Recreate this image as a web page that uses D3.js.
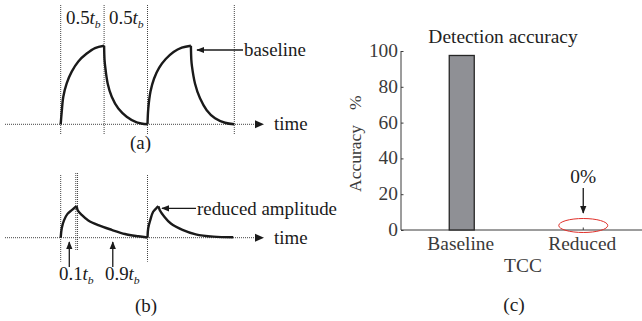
<!DOCTYPE html>
<html lang="en">
<head>
<meta charset="UTF-8">
<title>TCC detection accuracy</title>
<script src="https://cdn.jsdelivr.net/npm/d3@7/dist/d3.min.js"></script>
<style>
  body { margin: 0; background: #fff; }
  svg { display: block; font-family: "Liberation Serif", "Times New Roman", serif; }
</style>
</head>
<body>
<svg width="642" height="321"></svg>
<script>
// waveform samples: [time in tb, amplitude]
var aRise1 = [[0,0],[0.012,0.16],[0.03,0.35],[0.069,0.52],[0.127,0.67],[0.203,0.80],[0.30,0.90],[0.395,0.97],[0.5,1.0]];
var aFall1 = [[0.5,1.0],[0.505,0.82],[0.512,0.74],[0.541,0.52],[0.588,0.35],[0.664,0.20],[0.76,0.097],[0.876,0.025],[1.0,0]];
var aRise2 = [[1.0,0],[1.009,0.20],[1.035,0.42],[1.075,0.58],[1.135,0.72],[1.21,0.83],[1.30,0.92],[1.395,0.975],[1.5,1.0]];
var aFall2 = [[1.5,1.0],[1.505,0.82],[1.512,0.74],[1.547,0.52],[1.605,0.33],[1.682,0.18],[1.778,0.076],[1.893,0.02],[2.0,0]];
var bRise1 = [[0,0],[0.012,0.12],[0.038,0.22],[0.076,0.30],[0.127,0.35],[0.17,0.39],[0.184,0.40]];
var bFall1 = [[0.184,0.40],[0.196,0.35],[0.242,0.29],[0.318,0.22],[0.433,0.16],[0.587,0.10],[0.74,0.047],[0.894,0.018],[1.0,0.003]];
var bRise2 = [[1.0,0],[1.008,0.12],[1.031,0.22],[1.065,0.33],[1.11,0.385],[1.126,0.40]];
var bFall2 = [[1.126,0.40],[1.142,0.35],[1.192,0.27],[1.269,0.18],[1.403,0.10],[1.556,0.043],[1.758,0.013],[1.988,0.005]];
var aGuides = [0, 0.5, 1.0, 2.0];
var bGuides = [0, 0.174, 0.194, 1.0];
var bPointers = [0.099, 0.6];

// bar chart
var categories = ['Baseline', 'Reduced'];
var accuracy = [97.5, 0];
var yTicks = [0, 20, 40, 60, 80, 100];

var svg = d3.select('svg');
var ink = '#1a1a1a';
var sx = 1.05; // glyphs in the picture are a little wider than tall
var fsL = 18, fsR = 18.5;

svg.append('defs').append('marker')
    .attr('id', 'head')
    .attr('viewBox', '0 0 10 10')
    .attr('refX', 9).attr('refY', 5)
    .attr('markerWidth', 8).attr('markerHeight', 8)
    .attr('markerUnits', 'userSpaceOnUse')
    .attr('orient', 'auto')
    .append('path').attr('d', 'M0,1L10,5L0,9Z').attr('fill', ink);

function label(x, y, anchor, size, color) {
    return svg.append('text')
        .attr('transform', 'translate(' + x + ',' + y + ') scale(' + sx + ',1)')
        .attr('text-anchor', anchor)
        .attr('font-size', size)
        .attr('fill', color || ink);
}
function tb(x, y, num, size) {
    var t = label(x, y, 'start', size);
    t.append('tspan').text(num);
    t.append('tspan').attr('font-style', 'italic').text('t');
    t.append('tspan').attr('font-style', 'italic').attr('font-size', size * 0.62).attr('dy', 4).text('b');
}
function arrow(x1, y1, x2, y2) {
    svg.append('line')
        .attr('x1', x1).attr('y1', y1).attr('x2', x2).attr('y2', y2)
        .attr('stroke', ink).attr('stroke-width', 1.3)
        .attr('marker-end', 'url(#head)');
}

var x = d3.scaleLinear().domain([0, 2]).range([60.7, 234.3]);
var yA = d3.scaleLinear().domain([0, 1]).range([124.3, 45.7]);
var yB = d3.scaleLinear().domain([0, 1]).range([237.7, 159.1]);

function wave(seg, y) {
    var line = d3.line().x(function(d) { return x(d[0]); }).y(function(d) { return y(d[1]); })
        .curve(d3.curveCatmullRom.alpha(0.5));
    svg.append('path').attr('d', line(seg))
        .attr('fill', 'none').attr('stroke', ink).attr('stroke-width', 2.4)
        .attr('stroke-linejoin', 'round');
}
function guide(gx, y1, y2) {
    svg.append('line').attr('x1', x(gx)).attr('x2', x(gx)).attr('y1', y1).attr('y2', y2)
        .attr('stroke', '#444').attr('stroke-width', 1).attr('stroke-dasharray', '1,1');
}
function timeAxis(y0) {
    svg.append('line').attr('x1', 5).attr('x2', 263).attr('y1', y0).attr('y2', y0)
        .attr('stroke', '#444').attr('stroke-width', 1).attr('stroke-dasharray', '1,1');
    svg.append('path').attr('d', 'M255,' + (y0 - 4) + 'L264,' + y0 + 'L255,' + (y0 + 4) + 'Z').attr('fill', ink);
}

// ---- (a) ----
aGuides.forEach(function(g) { guide(g, 5, 135); });
timeAxis(yA(0));
[aRise1, aFall1, aRise2, aFall2].forEach(function(s) { wave(s, yA); });
tb(66, 24, '0.5', fsL);
tb(109, 24, '0.5', fsL);
arrow(243, 50, 197, 50);
label(244, 56, 'start', fsL).text('baseline');
label(274, 130, 'start', fsL).text('time');
label(140.5, 149, 'middle', fsL).text('(a)');

// ---- (b) ----
guide(bGuides[0], 175, 261.7);
guide(bGuides[1], 173, 250);
guide(bGuides[2], 173, 250);
guide(bGuides[3], 175, 261.7);
timeAxis(yB(0));
[bRise1, bFall1, bRise2, bFall2].forEach(function(s) { wave(s, yB); });
bPointers.forEach(function(p) { arrow(x(p), 267, x(p), 242); });
tb(59, 280, '0.1', fsL);
tb(105, 280, '0.9', fsL);
arrow(196, 208.3, 162, 208.3);
label(197, 215, 'start', fsL).text('reduced amplitude');
label(274, 243.5, 'start', fsL).text('time');
label(146, 312, 'middle', fsL).text('(b)');

// ---- (c) ----
var gray = '#3a3a3a';
var xb = d3.scaleBand().domain(categories).range([401, 644]);
var yb = d3.scaleLinear().domain([0, 100]).range([230, 51]);

var yAxis = d3.axisLeft(yb).tickValues(yTicks).tickSize(-2.5).tickPadding(4);
var gy = svg.append('g').attr('transform', 'translate(401,0)').call(yAxis);
gy.select('.domain').attr('stroke', gray).attr('d', 'M0,' + yb(100) + 'V' + yb(0));
gy.selectAll('.tick line').attr('stroke', gray);
gy.selectAll('.tick text').remove();
yTicks.forEach(function(v) {
    label(398, yb(v) + 6, 'end', fsR, gray).text(v);
});

var xAxis = d3.axisBottom(xb).tickSize(-2.5).tickFormat('');
var gx = svg.append('g').attr('transform', 'translate(0,' + yb(0) + ')').call(xAxis);
gx.select('.domain').attr('stroke', gray).attr('d', 'M401,0H642');
gx.selectAll('.tick line').attr('stroke', gray);

var bw = 25;
svg.selectAll('.bar').data(accuracy).enter().append('rect')
    .attr('class', 'bar')
    .attr('x', function(d, i) { return xb(categories[i]) + xb.bandwidth() / 2 - bw / 2; })
    .attr('y', function(d) { return yb(d); })
    .attr('width', bw)
    .attr('height', function(d) { return yb(0) - yb(d); })
    .attr('fill', '#8f9095').attr('stroke', '#262626').attr('stroke-width', 1.3);

categories.forEach(function(c) {
    label(xb(c) + xb.bandwidth() / 2 - 1, 249.5, 'middle', fsR, gray).text(c);
});
label(523, 272, 'middle', fsR, gray).text('TCC');
label(503, 43.3, 'middle', fsR, '#222').text('Detection accuracy');
var yl = svg.append('text')
    .attr('transform', 'translate(361,192) rotate(-90)')
    .attr('font-size', 17.5).attr('fill', gray);
yl.append('tspan').text('Accuracy');
yl.append('tspan').attr('dx', 15).text('%');

var cx = xb('Reduced') + xb.bandwidth() / 2;
svg.append('ellipse').attr('cx', cx).attr('cy', 225.5).attr('rx', 24.5).attr('ry', 7)
    .attr('fill', 'none').attr('stroke', '#e0302a').attr('stroke-width', 1);
arrow(cx, 188, cx, 213);
label(cx, 182.7, 'middle', fsR, '#222').text(accuracy[1] + '%');
label(514, 311, 'middle', fsR, '#222').text('(c)');
</script>
</body>
</html>
